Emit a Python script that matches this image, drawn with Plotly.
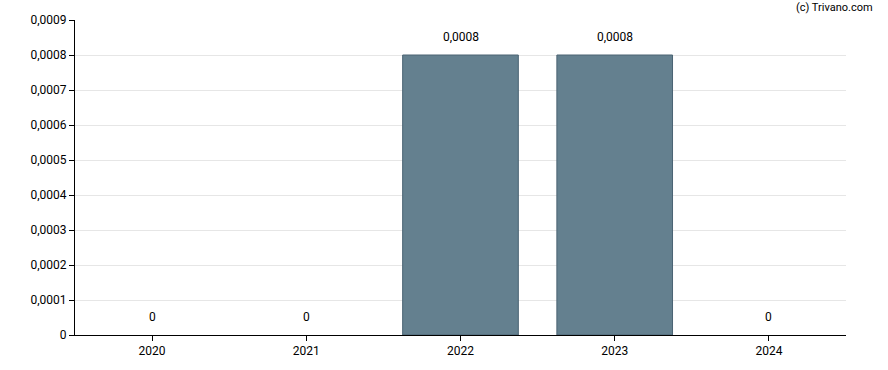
import plotly.graph_objects as go

years = ["2020", "2021", "2022", "2023", "2024"]
values = [0, 0, 0.0008, 0.0008, 0]
value_labels = ["0", "0", "0,0008", "0,0008", "0"]

fig = go.Figure()
fig.add_trace(go.Bar(
    x=years, y=values,
    marker=dict(color="#64808f",
                line=dict(color="#4a6373", width=[0 if v == 0 else 1 for v in values])),
    hoverinfo="skip",
))

for i, (v, lab) in enumerate(zip(values, value_labels)):
    fig.add_annotation(x=i, y=v, text=lab, showarrow=False,
                       yanchor="bottom", yshift=9,
                       font=dict(family="Roboto", size=12, color="#000000"))

fig.add_annotation(xref="paper", yref="paper", x=1.0376, y=1.0, yshift=4,
                   xanchor="right", yanchor="bottom", text="(c) Trivano.com",
                   showarrow=False, font=dict(family="Roboto", size=11, color="#000000"))

fig.update_layout(
    width=888, height=370,
    margin=dict(l=75, r=42, t=20, b=35),
    paper_bgcolor="white", plot_bgcolor="white",
    separators=",.",
    bargap=0.25,
    showlegend=False,
    font=dict(family="Roboto", size=12, color="#000000"),
)
fig.update_xaxes(type="category", range=[-0.5, 4.5],
                 showline=True, linecolor="#000000", linewidth=1,
                 ticks="outside", ticklen=5, tickcolor="#000000",
                 showgrid=False, tickfont=dict(size=12))
fig.update_yaxes(range=[0, 0.0009], dtick=0.0001, tick0=0, tickformat=".4~f",
                 showline=True, linecolor="#000000", linewidth=1,
                 ticks="outside", ticklen=5, tickcolor="#000000",
                 showgrid=True, gridcolor="#e6e6e6", gridwidth=1,
                 zeroline=False, tickfont=dict(size=12))

fig.write_html("out.html", config={"displayModeBar": False},
               post_script="document.body.style.margin='0';")
